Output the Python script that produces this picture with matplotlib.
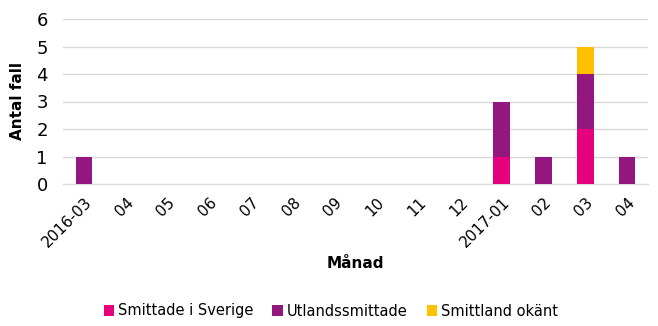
import matplotlib
matplotlib.use('Agg')
import matplotlib.pyplot as plt
import numpy as np

# manader och antal fall
manader = ['2016-03', '04', '05', '06', '07', '08', '09', '10', '11', '12',
           '2017-01', '02', '03', '04']
smittade_sverige = [0, 0, 0, 0, 0, 0, 0, 0, 0, 0, 1, 0, 2, 0]
utlandssmittade = [1, 0, 0, 0, 0, 0, 0, 0, 0, 0, 2, 1, 2, 1]
smittland_okant = [0, 0, 0, 0, 0, 0, 0, 0, 0, 0, 0, 0, 1, 0]

plt.rcParams['font.family'] = ['DejaVu Sans']

fig = plt.figure(figsize=(6.58, 3.26), dpi=100)
ax = fig.add_axes([63 / 658, 1 - 184 / 326, (648 - 63) / 658, (184 - 19) / 326])

x = np.arange(len(manader))
s = np.array(smittade_sverige)
u = np.array(utlandssmittade)
o = np.array(smittland_okant)
w = 0.4
ax.bar(x, s, w, color='#E6007E', label='Smittade i Sverige', zorder=3)
ax.bar(x, u, w, bottom=s, color='#93177F', label='Utlandssmittade', zorder=3)
ax.bar(x, o, w, bottom=s + u, color='#FFC000', label='Smittland okänt', zorder=3)

ax.set_xlim(-0.5, len(manader) - 0.5)
ax.set_ylim(0, 6)
ax.set_yticks(range(0, 7))
ax.yaxis.grid(True, color='#D9D9D9', linewidth=1, zorder=0)
for sp in ['top', 'right', 'left']:
    ax.spines[sp].set_visible(False)
ax.spines['bottom'].set_color('#D9D9D9')
ax.tick_params(axis='both', length=0)
ax.tick_params(axis='y', labelsize=13, pad=11)
ax.set_xticks(x)
ax.set_xticklabels(manader, rotation=45, ha='right', rotation_mode='anchor', fontsize=11)
ax.tick_params(axis='x', pad=8)

ax.set_ylabel('Antal fall', fontsize=11, fontweight='bold', labelpad=8)
ax.set_xlabel('Månad', fontsize=11, fontweight='bold', labelpad=4)

h, l = ax.get_legend_handles_labels()
fig.legend(h, l, loc='center', bbox_to_anchor=(0.503, 1 - 311 / 326), ncol=3, frameon=False,
           fontsize=10.5, handlelength=0.7, handleheight=0.7, handletextpad=0.3,
           columnspacing=1.3)

fig.savefig('out.png', dpi=100)
